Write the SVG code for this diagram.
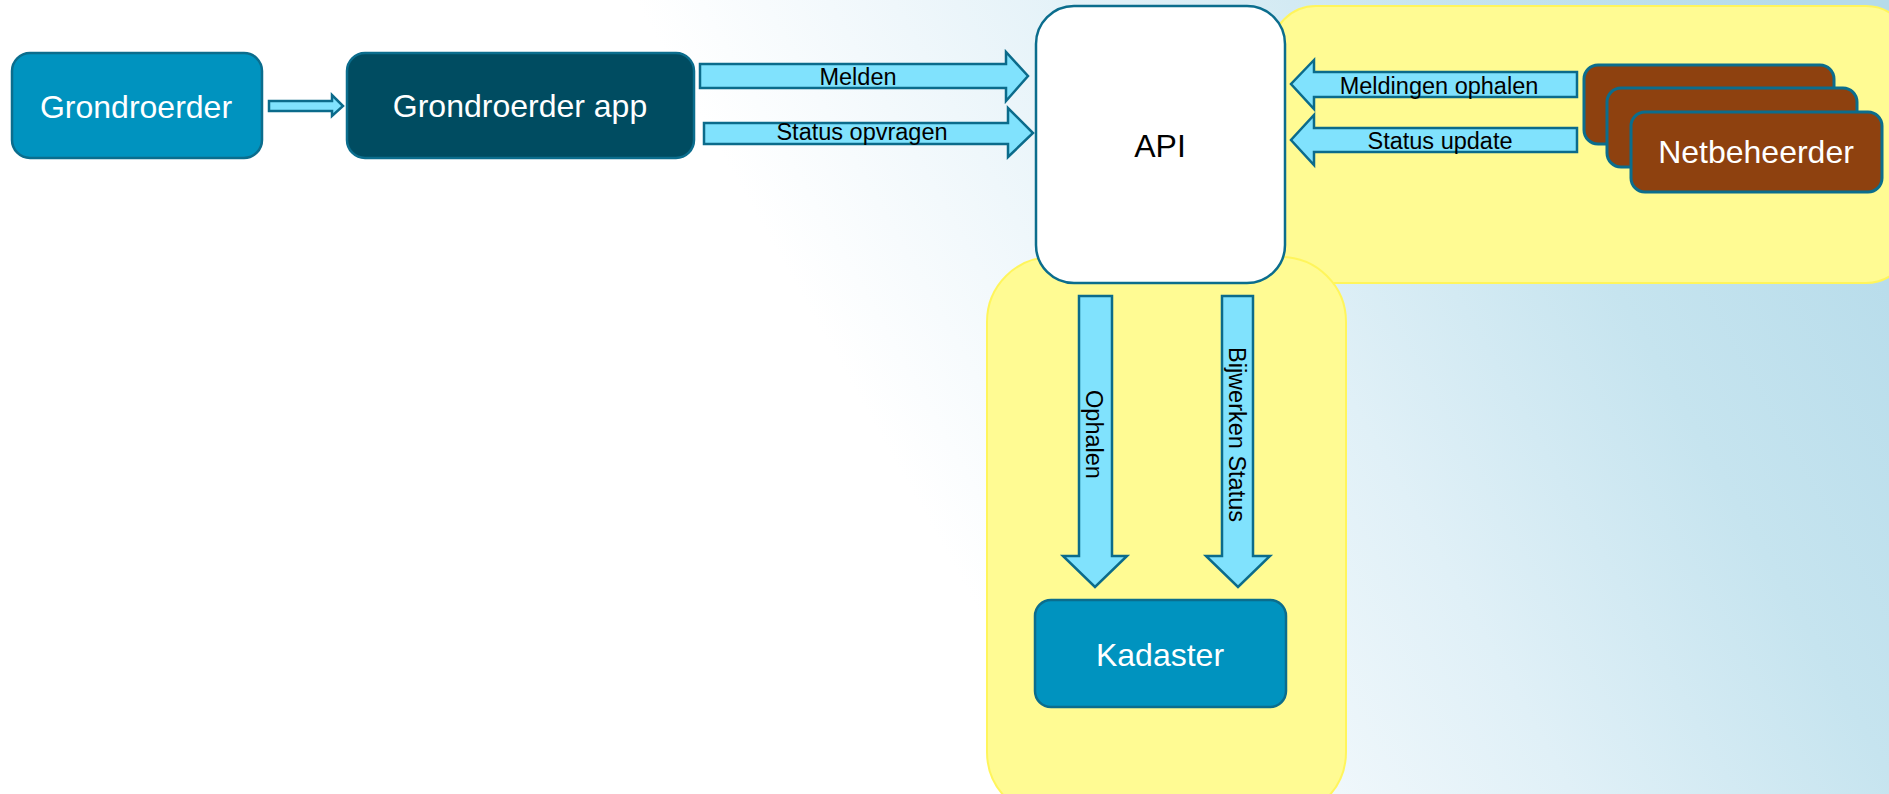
<svg xmlns="http://www.w3.org/2000/svg" width="1889" height="794" viewBox="0 0 1889 794">
  <defs>
    <linearGradient id="bg" gradientUnits="userSpaceOnUse" x1="1889" y1="150" x2="1000" y2="650">
      <stop offset="0" stop-color="#b5dbea"/>
      <stop offset="0.3" stop-color="#c6e4ef"/>
      <stop offset="0.58" stop-color="#e0f0f7"/>
      <stop offset="0.78" stop-color="#eff7fb"/>
      <stop offset="1" stop-color="#ffffff"/>
    </linearGradient>
    <style>
      .zone { fill: #fffb93; stroke: #fff55c; stroke-width: 2; }
      .node { stroke: #0b6d8d; stroke-width: 2.5; }
      .blue { fill: #0093bf; }
      .dark { fill: #004c61; }
      .brown { fill: #8e410f; stroke-width: 3; }
      .api { fill: #ffffff; }
      .label { font-family: "Liberation Sans", Arial, sans-serif; font-size: 32px; text-anchor: middle; }
      .light { fill: #ffffff; }
      .black { fill: #000000; }
      .flow { fill: #80e2fd; stroke: #0b6b8b; stroke-width: 2.5; stroke-linejoin: miter; }
      .flowtext { font-family: "Liberation Sans", Arial, sans-serif; font-size: 23.5px; fill: #000000; text-anchor: middle; }
    </style>
  </defs>

  <!-- background -->
  <rect x="0" y="0" width="1889" height="794" fill="url(#bg)"/>

  <!-- highlighted zones -->
  <g id="zone-netbeheer">
    <rect class="zone" x="1271" y="6" width="640" height="277" rx="45"/>
  </g>
  <g id="zone-kadaster">
    <rect class="zone" x="987" y="257" width="359" height="560" rx="65"/>
  </g>

  <!-- connectors -->
  <g id="connectors">
    <polygon class="flow" points="269,101 332,101 332,95 343,106 332,116 332,111 269,111"/>
    <polygon class="flow" points="700,64 1006,64 1006,52 1028,76 1006,101 1006,88 700,88"/>
    <polygon class="flow" points="704,123 1008,123 1008,108 1033,133 1008,157 1008,144 704,144"/>
    <polygon class="flow" points="1577,72 1314,72 1314,60 1291,84 1314,109 1314,97 1577,97"/>
    <polygon class="flow" points="1577,128 1314,128 1314,115 1291,140 1314,165 1314,152 1577,152"/>
    <polygon class="flow" points="1079,296 1112,296 1112,556 1127,556 1095,587 1063,556 1079,556"/>
    <polygon class="flow" points="1222,296 1253,296 1253,556 1270,556 1238,587 1206,556 1222,556"/>
    <text class="flowtext" x="858" y="85">Melden</text>
    <text class="flowtext" x="862" y="140">Status opvragen</text>
    <text class="flowtext" x="1439" y="94">Meldingen ophalen</text>
    <text class="flowtext" x="1440" y="149">Status update</text>
    <text class="flowtext" transform="translate(1086,434.5) rotate(90)">Ophalen</text>
    <text class="flowtext" transform="translate(1229,434.5) rotate(90)">Bijwerken Status</text>
  </g>

  <g id="grondroerder">
    <rect class="node blue" x="12" y="53" width="250" height="105" rx="18"/>
    <text class="label light" x="136" y="118">Grondroerder</text>
  </g>

  <g id="grondroerder-app">
    <rect class="node dark" x="347" y="53" width="347" height="105" rx="18"/>
    <text class="label light" x="520" y="117">Grondroerder app</text>
  </g>

  <g id="api">
    <rect class="node api" x="1036" y="6" width="249" height="277" rx="38"/>
    <text class="label black" x="1160" y="157">API</text>
  </g>

  <g id="netbeheerder">
    <rect class="node brown" x="1584" y="65" width="250" height="79" rx="14"/>
    <rect class="node brown" x="1607" y="88" width="250" height="79" rx="14"/>
    <rect class="node brown" x="1631" y="112" width="251" height="80" rx="14"/>
    <text class="label light" x="1756" y="163">Netbeheerder</text>
  </g>

  <g id="kadaster">
    <rect class="node blue" x="1035" y="600" width="251" height="107" rx="16"/>
    <text class="label light" x="1160" y="666">Kadaster</text>
  </g>
</svg>
